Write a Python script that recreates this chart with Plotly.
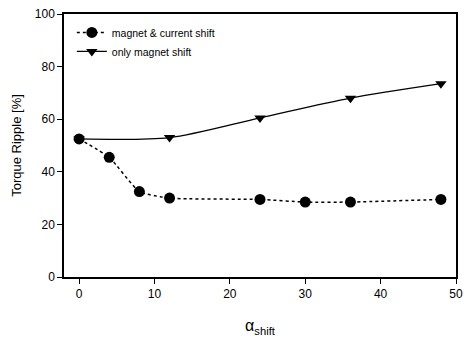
import plotly.graph_objects as go

# shift angle samples and torque ripple values
alpha_mc = [0, 4, 8, 12, 24, 30, 36, 48]
ripple_mc = [52.5, 45.5, 32.5, 30.0, 29.5, 28.5, 28.5, 29.5]

alpha_m = [0, 12, 24, 36, 48]
ripple_m = [52.5, 53.0, 60.5, 68.0, 73.5]

x_ticks = [0, 10, 20, 30, 40, 50]
y_ticks = [0, 20, 40, 60, 80, 100]

fig = go.Figure()
fig.add_trace(go.Scatter(
    x=alpha_mc, y=ripple_mc, name="magnet & current shift",
    mode="lines+markers",
    line=dict(color="black", width=1.5, dash="dot", shape="spline", smoothing=0.5),
    marker=dict(symbol="circle", size=11, color="black"),
))
fig.add_trace(go.Scatter(
    x=alpha_m, y=ripple_m, name="only magnet shift",
    mode="lines+markers",
    line=dict(color="black", width=1.3, shape="spline", smoothing=0.8),
    marker=dict(symbol="triangle-down", size=10, color="black"),
))

axis_common = dict(
    showgrid=False, zeroline=False, showline=True, linecolor="black", linewidth=1.5,
    mirror=True, ticks="outside", ticklen=5, tickcolor="black",
    tickfont=dict(family="Liberation Sans, Arial", size=12, color="black"),
)

fig.update_layout(
    width=470, height=347,
    margin=dict(l=64, r=7, t=9, b=70),
    paper_bgcolor="white", plot_bgcolor="white",
    font=dict(family="Liberation Sans, Arial", size=12, color="black"),
    showlegend=True,
    legend=dict(x=0.02, y=0.985, xanchor="left", yanchor="top",
                bgcolor="rgba(0,0,0,0)", font=dict(size=10.5), tracegroupgap=0,
                itemwidth=30),
    xaxis=dict(range=[-2, 50], tickvals=x_ticks,
               title=dict(text="α<sub>shift</sub>", standoff=20,
                          font=dict(size=16)),
               **axis_common),
    yaxis=dict(range=[0, 100], tickvals=y_ticks,
               title=dict(text="Torque Ripple [%]", standoff=10,
                          font=dict(size=13)),
               **axis_common),
)

fig.write_html("out.html")
